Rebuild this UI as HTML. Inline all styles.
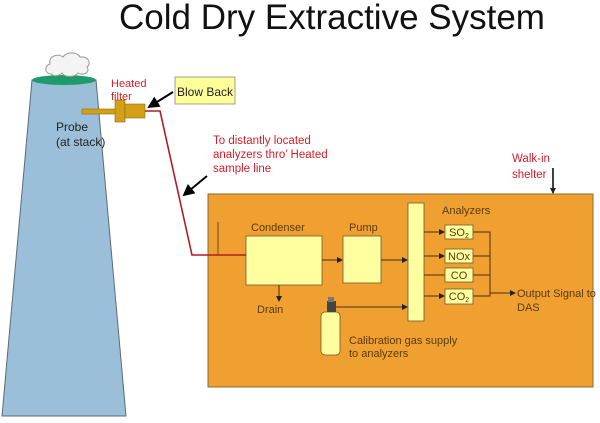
<!DOCTYPE html>
<html><head><meta charset="utf-8"><style>
html,body{margin:0;padding:0;background:#fff;width:600px;height:423px;overflow:hidden}
svg text{font-family:"Liberation Sans",sans-serif}
</style></head><body>
<svg width="600" height="423" viewBox="0 0 600 423" xmlns="http://www.w3.org/2000/svg">
<defs>
<marker id="ah" markerWidth="6" markerHeight="6" refX="5" refY="3" orient="auto" markerUnits="userSpaceOnUse"><path d="M0,0 L6,3 L0,6z" fill="#222"/></marker>
<marker id="bh" markerWidth="12" markerHeight="12" refX="10" refY="6" orient="auto" markerUnits="userSpaceOnUse"><path d="M0,0 L12,6 L0,12z" fill="#000"/></marker>
</defs>
<text x="332" y="29" font-size="35" text-anchor="middle" fill="#111">Cold Dry Extractive System</text>
<!-- stack -->
<path d="M32,80 L96,80 L126,416 L2,416Z" fill="#9bbfd8" stroke="#5a6b78" stroke-width="1"/>
<ellipse cx="64" cy="80" rx="32" ry="5" fill="#1f9a6a"/>
<path d="M52,74 C44,74 44,66 50,64 C48,56 58,53 63,57 C67,51 78,52 80,57 C88,56 92,63 87,67 C91,73 82,76 78,73 C74,78 64,77 62,73 C58,77 52,76 52,74Z" fill="#f4f4f4" stroke="#999" stroke-width="1"/>
<text x="56" y="131" font-size="12" fill="#222">Probe</text>
<text x="56" y="146" font-size="12" fill="#222">(at stack)</text>
<!-- probe -->
<rect x="82" y="109" width="34" height="5" fill="#d4a017" stroke="#8a6a10" stroke-width="0.6"/>
<rect x="115" y="100" width="10" height="22" fill="#d4a017" stroke="#8a6a10" stroke-width="0.6"/>
<rect x="125" y="104" width="20" height="14" fill="#d4a017" stroke="#8a6a10" stroke-width="0.6"/>
<text x="111" y="87" font-size="11" fill="#d0202a">Heated</text>
<text x="111" y="100" font-size="11" fill="#d0202a">filter</text>
<rect x="175" y="77" width="60" height="27" fill="#ffff99" stroke="#888" stroke-width="0.8"/>
<text x="177" y="96" font-size="12" fill="#222">Blow Back</text>
<line x1="173" y1="92" x2="149" y2="107" stroke="#000" stroke-width="2" marker-end="url(#bh)"/>
<!-- orange shelter -->
<rect x="208" y="194" width="385" height="193" fill="#f0a030" stroke="#8a6a30" stroke-width="1"/>
<!-- red line -->
<polyline points="145,111 160,111 192,255 246,255" fill="none" stroke="#b01c24" stroke-width="1.6"/>
<line x1="218" y1="222" x2="218" y2="255" stroke="#6a4a20" stroke-width="1"/>
<text x="213" y="144" font-size="11.5" fill="#d0202a">To distantly located</text>
<text x="213" y="158" font-size="11.5" fill="#d0202a">analyzers  thro’ Heated</text>
<text x="213" y="172" font-size="11.5" fill="#d0202a">sample line</text>
<line x1="207" y1="176" x2="184" y2="195" stroke="#000" stroke-width="2" marker-end="url(#bh)"/>
<text x="512" y="162" font-size="11.5" fill="#d0202a">Walk-in</text>
<text x="512" y="178" font-size="11.5" fill="#d0202a">shelter</text>
<line x1="553" y1="168" x2="553" y2="193" stroke="#000" stroke-width="1.5" marker-end="url(#ah)"/>
<!-- condenser -->
<text x="251" y="231" font-size="11" fill="#5a3a10">Condenser</text>
<rect x="246" y="236" width="76" height="49" fill="#ffffa0" stroke="#6a5a30" stroke-width="0.8"/>
<line x1="322" y1="260" x2="342" y2="260" stroke="#4a3010" stroke-width="1" marker-end="url(#ah)"/>
<line x1="279" y1="285" x2="279" y2="301" stroke="#4a3010" stroke-width="1" marker-end="url(#ah)"/>
<text x="257" y="313" font-size="11" fill="#5a3a10">Drain</text>
<text x="349" y="231" font-size="11" fill="#5a3a10">Pump</text>
<rect x="343" y="236" width="38" height="47" fill="#ffffa0" stroke="#6a5a30" stroke-width="0.8"/>
<line x1="381" y1="260" x2="407" y2="260" stroke="#4a3010" stroke-width="1" marker-end="url(#ah)"/>
<rect x="408" y="203" width="16" height="118" fill="#ffffa0" stroke="#6a5a30" stroke-width="0.8"/>
<!-- cylinder -->
<rect x="321" y="312" width="19" height="43" rx="4" fill="#ffffa0" stroke="#6a5a30" stroke-width="0.8"/>
<rect x="327" y="301" width="9" height="11" fill="#444"/>
<rect x="328" y="297" width="6" height="5" fill="#777"/>
<line x1="336" y1="307" x2="407" y2="307" stroke="#4a3010" stroke-width="1" marker-end="url(#ah)"/>
<text x="349" y="344" font-size="11" fill="#5a3a10">Calibration gas supply</text>
<text x="349" y="357" font-size="11" fill="#5a3a10">to analyzers</text>
<!-- analyzers -->
<text x="442" y="214" font-size="11" fill="#5a3a10">Analyzers</text>
<g stroke="#4a3010" stroke-width="1" fill="none">
<line x1="424" y1="232" x2="444" y2="232" marker-end="url(#ah)"/>
<line x1="424" y1="256" x2="444" y2="256" marker-end="url(#ah)"/>
<line x1="424" y1="275" x2="445" y2="275"/>
<line x1="424" y1="296" x2="444" y2="296" marker-end="url(#ah)"/>
<polyline points="473,232 490,232 490,296 473,296"/>
<line x1="473" y1="256" x2="490" y2="256"/>
<line x1="473" y1="275" x2="490" y2="275"/>
<line x1="490" y1="293" x2="515" y2="293" marker-end="url(#ah)"/>
</g>
<g fill="#ffffa0" stroke="#6a5a30" stroke-width="0.8">
<rect x="445" y="225" width="28" height="14"/>
<rect x="445" y="249" width="28" height="14"/>
<rect x="445" y="268" width="28" height="14"/>
<rect x="445" y="289" width="28" height="15"/>
</g>
<g font-size="11" fill="#5a3a10" text-anchor="middle">
<text x="459" y="236">SO<tspan font-size="7" dy="2">2</tspan></text>
<text x="459" y="260">NOx</text>
<text x="459" y="279">CO</text>
<text x="459" y="300">CO<tspan font-size="7" dy="2">2</tspan></text>
</g>
<text x="517" y="297" font-size="11" fill="#5a3a10">Output Signal to</text>
<text x="517" y="311" font-size="11" fill="#5a3a10">DAS</text>
</svg>
</body></html>
